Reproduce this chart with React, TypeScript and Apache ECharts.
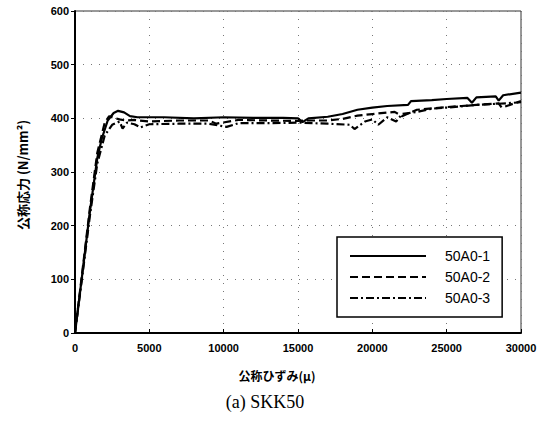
import React, { useEffect, useRef } from "react";
import * as echarts from "echarts";

const seriesNames = ["50A0-1", "50A0-2", "50A0-3"];

const strain1 = [0, 500, 1000, 1500, 1800, 2200, 2600, 2900, 3300, 3700, 4200, 6000, 8000, 10000, 12000, 14000, 15000, 15300, 15700, 17000, 18000, 19000, 20000, 21000, 22400, 22600, 24000, 25000, 26400, 26700, 27000, 28300, 28500, 28800, 30000];
const stress1 = [0, 112, 226, 326, 362, 396, 410, 414, 411, 404, 402, 402, 400, 402, 401, 401, 400, 393, 400, 403, 408, 416, 420, 423, 425, 432, 434, 436, 438, 429, 439, 441, 433, 443, 448];

const strain2 = [0, 500, 1000, 1500, 2000, 2300, 2600, 3000, 3400, 4000, 5000, 7000, 9000, 9500, 11000, 13000, 15000, 15500, 17000, 18000, 19000, 20000, 21500, 22000, 23000, 25000, 26000, 27000, 28500, 28700, 30000];
const stress2 = [0, 116, 232, 336, 392, 404, 401, 398, 396, 397, 394, 396, 396, 390, 397, 396, 395, 396, 396, 399, 405, 408, 412, 404, 416, 421, 423, 425, 428, 420, 432];

const strain3 = [0, 500, 1000, 1500, 2000, 2500, 3000, 3200, 3500, 4000, 4400, 5000, 7000, 9000, 10200, 11000, 13000, 15000, 17000, 18500, 18800, 19500, 20000, 20400, 21000, 21600, 22000, 23000, 24000, 25000, 27000, 29000, 30000];
const stress3 = [0, 108, 218, 316, 368, 388, 394, 381, 392, 389, 383, 389, 390, 390, 384, 391, 391, 392, 390, 388, 380, 394, 398, 388, 402, 394, 408, 412, 418, 420, 425, 428, 430];

const xTicks = [0, 5000, 10000, 15000, 20000, 25000, 30000];
const yTicks = [0, 100, 200, 300, 400, 500, 600];

const lineTypes: any[] = ["solid", [8, 4], [8, 3, 2, 3]];

export default function App() {
  const ref = useRef<HTMLDivElement>(null);
  useEffect(() => {
    if (!ref.current) return;
    const chart = echarts.init(ref.current, undefined, { renderer: "svg" });
    const xs = [strain1, strain2, strain3];
    const ys = [stress1, stress2, stress3];
    const gridLine = { show: true, lineStyle: { color: "#777", type: [1, 7] as any, width: 1 } };
    chart.setOption({
      animation: false,
      backgroundColor: "#fff",
      grid: { left: 75, right: 22, top: 11, bottom: 102, show: true, borderColor: "#333", borderWidth: 1 },
      xAxis: {
        type: "value",
        min: xTicks[0],
        max: xTicks[xTicks.length - 1],
        interval: 5000,
        axisLine: { show: true, lineStyle: { color: "#000", width: 2 } },
        axisTick: { show: true, inside: true, length: 4, lineStyle: { color: "#000" } },
        axisLabel: {
          color: "#000",
          fontSize: 11,
          fontWeight: "bold",
          fontFamily: "Liberation Sans, Arial, sans-serif",
          margin: 9,
          formatter: (v: number) => String(v),
        },
        splitLine: gridLine,
      },
      yAxis: {
        type: "value",
        min: yTicks[0],
        max: yTicks[yTicks.length - 1],
        interval: 100,
        axisLine: { show: true, lineStyle: { color: "#000", width: 2 } },
        axisTick: { show: true, inside: false, length: 4, lineStyle: { color: "#000" } },
        axisLabel: {
          color: "#000",
          fontSize: 11,
          fontWeight: "bold",
          fontFamily: "Liberation Sans, Arial, sans-serif",
          margin: 6,
          formatter: (v: number) => String(v),
        },
        splitLine: gridLine,
      },
      legend: {
        show: true,
        orient: "vertical",
        left: 337,
        top: 237,
        width: 168,
        padding: [12, 12, 12, 12],
        itemGap: 7,
        itemWidth: 76,
        itemHeight: 13,
        backgroundColor: "#fff",
        borderColor: "#000",
        borderWidth: 1.5,
        itemStyle: { opacity: 0 },
        textStyle: { color: "#000", fontSize: 14, fontFamily: "Liberation Sans, Arial, sans-serif", padding: [0, 0, 0, 14] },
        data: seriesNames,
      },
      series: seriesNames.map((name, i) => ({
        name,
        type: "line",
        data: xs[i].map((x, j) => [x, ys[i][j]]),
        symbol: "none",
        showSymbol: false,
        lineStyle: { color: "#000", width: 2.2, type: lineTypes[i] },
        itemStyle: { color: "#000" },
        z: 3 - i,
      })),
      graphic: [
        {
          type: "text",
          x: 22,
          y: 175,
          rotation: Math.PI / 2,
          style: {
            text: "公称応力 (N/mm²)",
            fontSize: 13,
            fontWeight: "bold",
            fontFamily: "Noto Sans CJK JP, sans-serif",
            fill: "#000",
            align: "center",
            verticalAlign: "middle",
          },
        },
        {
          type: "text",
          x: 277,
          y: 375,
          style: {
            text: "公称ひずみ(μ)",
            fontSize: 12,
            fontWeight: "bold",
            fontFamily: "Noto Sans CJK JP, sans-serif",
            fill: "#000",
            align: "center",
            verticalAlign: "middle",
          },
        },
        {
          type: "text",
          x: 265,
          y: 402,
          style: {
            text: "(a) SKK50",
            fontSize: 18,
            fontFamily: "Liberation Serif, DejaVu Serif, serif",
            fill: "#000",
            align: "center",
            verticalAlign: "middle",
          },
        },
      ],
    });
    return () => chart.dispose();
  }, []);
  return <div ref={ref} style={{ width: 543, height: 435, position: "absolute", left: 0, top: 0 }} />;
}
